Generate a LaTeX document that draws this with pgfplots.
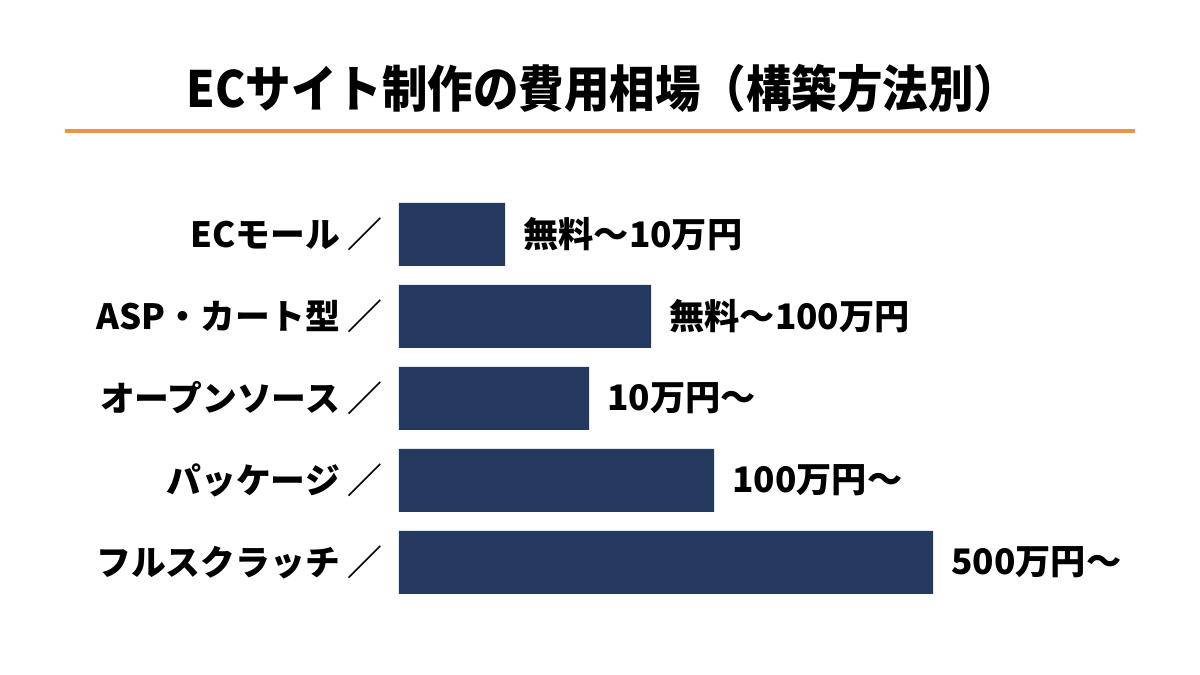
\documentclass[border=0pt]{standalone}
\usepackage{pgfplots}
\pgfplotsset{compat=1.18}
\usepackage{pgfplotstable}
\usepackage{fontspec}
\setmainfont{Noto Sans CJK JP}
\newfontfamily\titlefont[FakeStretch=0.91]{Noto Sans CJK JP}
\definecolor{barnavy}{HTML}{233A5E}
\definecolor{lineorange}{HTML}{EE9440}
\pgfplotstableread{
y x label
0 106 {無料～10万円}
1 252 {無料～100万円}
2 190 {10万円～}
3 315 {100万円～}
4 534 {500万円～}
}\costdata
\begin{document}
\begin{tikzpicture}
\path[use as bounding box, fill=white] (0,0) rectangle (600pt,337.5pt);
\node[font=\titlefont\fontsize{25}{28}\selectfont\bfseries, anchor=center] at (301.5pt,293.5pt) {ECサイト制作の費用相場（構築方法別）};
\draw[lineorange, line width=2pt] (32.5pt,272pt) -- (567.5pt,272pt);
\begin{axis}[
  at={(199.5pt,240.75pt)}, anchor=north west,
  scale only axis, width=350pt, height=205pt,
  xbar, bar width=31.5pt,
  xmin=0, xmax=700, ymin=-0.5, ymax=4.5,
  y dir=reverse,
  hide x axis,
  axis y line*=left,
  y axis line style={draw=none},
  ytick={0,1,2,3,4},
  yticklabels={ECモール ／,ASP・カート型 ／,オープンソース ／,パッケージ ／,フルスクラッチ ／},
  major tick length=0pt,
  yticklabel style={font=\fontsize{17.4}{20}\selectfont\bfseries, anchor=east, inner sep=0pt, xshift=-8pt},
  nodes near coords,
  point meta=explicit symbolic,
  every node near coord/.append style={font=\fontsize{17.6}{20}\selectfont\bfseries, anchor=west, inner sep=0pt, xshift=9pt, text=black},
]
\addplot[fill=barnavy, draw=none] table[x=x, y=y, meta=label] {\costdata};
\end{axis}
\end{tikzpicture}
\end{document}
